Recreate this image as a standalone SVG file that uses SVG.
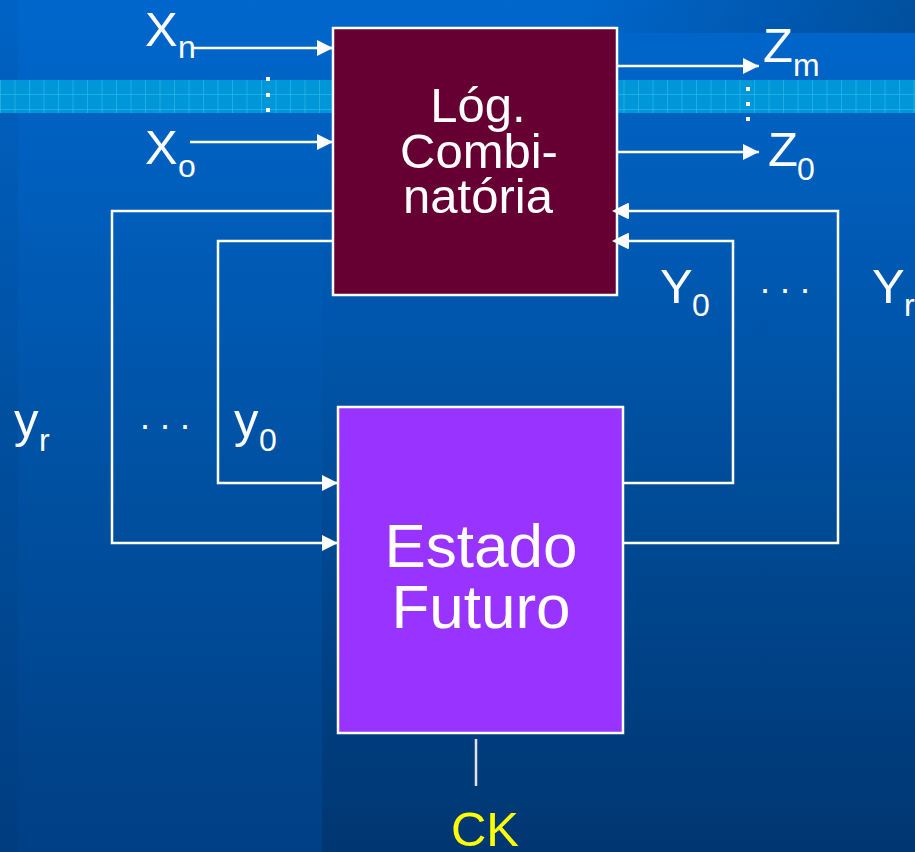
<svg xmlns="http://www.w3.org/2000/svg" width="915" height="852" viewBox="0 0 915 852">
<defs>
<linearGradient id="bg" x1="0" y1="0" x2="0" y2="1">
<stop offset="0" stop-color="#0067cd"/>
<stop offset="0.5" stop-color="#0053a6"/>
<stop offset="1" stop-color="#003f84"/>
</linearGradient>
<linearGradient id="shadeR" x1="0" y1="0" x2="0" y2="1">
<stop offset="0" stop-color="#000" stop-opacity="0"/>
<stop offset="0.45" stop-color="#000" stop-opacity="0.03"/>
<stop offset="1" stop-color="#000" stop-opacity="0.14"/>
</linearGradient>
<linearGradient id="topR" x1="0" y1="0" x2="1" y2="0">
<stop offset="0" stop-color="#000" stop-opacity="0"/>
<stop offset="1" stop-color="#000" stop-opacity="0.22"/>
</linearGradient>
<pattern id="grid" x="0" y="80" width="14.5" height="33" patternUnits="userSpaceOnUse">
<rect x="0" y="0" width="14.5" height="33" fill="#0097d8"/>
<rect x="0" y="0" width="1" height="33" fill="#2cb6f0" opacity="0.7"/>
<rect x="0" y="14" width="14.5" height="1" fill="#2cb6f0" opacity="0.7"/>
<rect x="0" y="29" width="14.5" height="1" fill="#2cb6f0" opacity="0.7"/>
</pattern>
<marker id="arr" markerUnits="userSpaceOnUse" markerWidth="17" markerHeight="17" refX="16" refY="8" orient="auto">
<path d="M0,0 L16,8 L0,16 z" fill="#fff"/>
</marker>
<style>
.lbl{font-family:"Liberation Sans",Arial,sans-serif;fill:#fff;font-size:49px}
.sub{font-family:"Liberation Sans",Arial,sans-serif;fill:#fff;font-size:32px}
.box{stroke:#fff;stroke-width:2.5}
.wire{fill:none;stroke:#fff;stroke-width:2.5}
.dot{fill:#fff}
</style>
</defs>

<g id="background">
<rect x="0" y="0" width="915" height="852" fill="url(#bg)"/>
<rect x="322" y="0" width="593" height="852" fill="url(#shadeR)"/>
<rect x="0" y="0" width="18" height="852" fill="#000" opacity="0.04"/>
<rect x="560" y="0" width="355" height="33" fill="url(#topR)"/>
<rect x="0" y="80" width="915" height="33" fill="url(#grid)"/>
</g>

<g id="connectors">
<path class="wire" d="M192,48 H333" marker-end="url(#arr)"/>
<path class="wire" d="M190,142 H333" marker-end="url(#arr)"/>
<path class="wire" d="M617,66 H759" marker-end="url(#arr)"/>
<path class="wire" d="M617,152 H759" marker-end="url(#arr)"/>
<path class="wire" d="M333,211 H112 V543 H338" marker-end="url(#arr)"/>
<path class="wire" d="M336,241 H218 V483 H338" marker-end="url(#arr)"/>
<path class="wire" d="M623,483 H733 V241 H613" marker-end="url(#arr)"/>
<path class="wire" d="M623,543 H838 V211 H613" marker-end="url(#arr)"/>
<path d="M476,739 V786" stroke="#e0e0ee" stroke-width="2.5" fill="none"/>
</g>

<g id="logica">
<rect class="box" x="333" y="28" width="284" height="267" fill="#660033"/>
<text class="lbl" text-anchor="middle" x="478" y="122">Lóg.</text>
<text class="lbl" text-anchor="middle" x="479" y="168">Combi-</text>
<text class="lbl" text-anchor="middle" x="478" y="213">natória</text>
</g>
<g id="logica-arrowtips">
<path d="M628,203 L612,211 L628,219 z" fill="#fff"/>
<path d="M628,233 L612,241 L628,249 z" fill="#fff"/>
</g>

<g id="estado">
<rect class="box" x="338" y="407" width="285" height="326" fill="#9933ff"/>
<text class="lbl" text-anchor="middle" x="481" y="567" style="font-size:62px">Estado</text>
<text class="lbl" text-anchor="middle" x="481" y="628" style="font-size:62px">Futuro</text>
</g>

<g id="labels">
<text class="lbl" x="145" y="46">X</text><text class="sub" x="178" y="58">n</text>
<text class="lbl" x="145" y="164">X</text><text class="sub" x="178" y="177">o</text>
<text class="lbl" x="763" y="62">Z</text><text class="sub" x="793" y="76">m</text>
<text class="lbl" x="768" y="166">Z</text><text class="sub" x="797" y="180">0</text>
<text class="lbl" x="660" y="303">Y</text><text class="sub" x="692" y="316">0</text>
<text class="lbl" x="872" y="303">Y</text><text class="sub" x="904" y="316">r</text>
<text class="lbl" x="14" y="437">y</text><text class="sub" x="39" y="451">r</text>
<text class="lbl" x="234" y="437">y</text><text class="sub" x="259" y="451">0</text>
<text class="sub" x="140" y="429" style="font-size:36px">. . .</text>
<text class="sub" x="760" y="293" style="font-size:36px">. . .</text>
<text class="lbl" x="485" y="846" text-anchor="middle" style="fill:#ffff00">CK</text>
</g>

<g id="vdots">
<rect class="dot" x="266" y="77" width="4" height="4"/>
<rect class="dot" x="266" y="93" width="4" height="4"/>
<rect class="dot" x="266" y="108" width="4" height="4"/>
<rect class="dot" x="746" y="87" width="4" height="4"/>
<rect class="dot" x="746" y="102" width="4" height="4"/>
<rect class="dot" x="746" y="117" width="4" height="4"/>
</g>
</svg>
